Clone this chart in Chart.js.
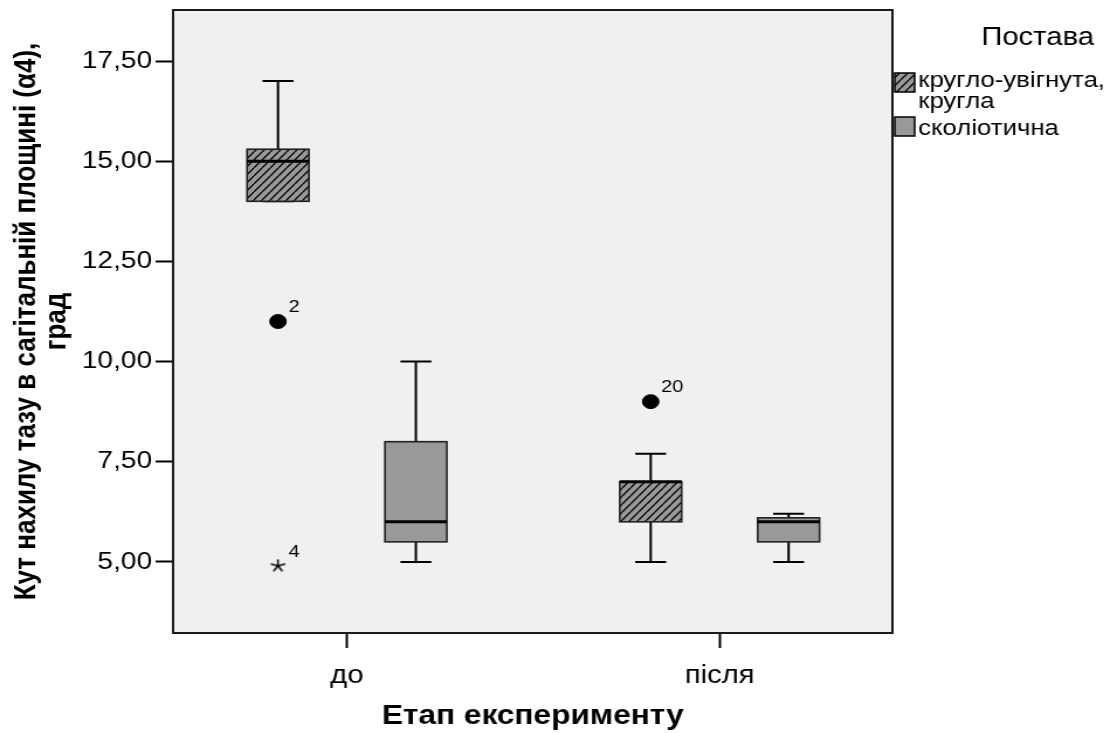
<!DOCTYPE html>
<html>
<head>
<meta charset="utf-8">
<script src="https://cdn.jsdelivr.net/npm/chart.js@4.4.0/dist/chart.umd.min.js"></script>
<style>
    html, body { margin: 0; padding: 0; background: #fff; }
</style>
</head>
<body>
<canvas id="boxChart" width="955" height="733" style="width:1117px;height:733px"></canvas>
<script>
// Values
const stageLabels = ['до', 'після'];
const yTickValues = [5, 7.5, 10, 12.5, 15, 17.5];

// кругло-увігнута, кругла
const roundLow = [14.0, 5.0];
const roundQ1 = [14.0, 6.0];
const roundMedian = [15.0, 7.0];
const roundQ3 = [15.3, 7.0];
const roundHigh = [17.0, 7.7];

// сколіотична
const scolLow = [5.0, 5.0];
const scolQ1 = [5.5, 5.5];
const scolMedian = [6.0, 6.0];
const scolQ3 = [8.0, 6.1];
const scolHigh = [10.0, 6.2];

// outliers (circles) and extremes (stars), with case numbers
const outlierStage = [0, 1];
const outlierGroup = [0, 0];
const outlierValues = [11.0, 9.0];
const outlierCases = ['2', '20'];
const extremeStage = [0];
const extremeGroup = [0];
const extremeValues = [4.9];
const extremeCases = ['4'];

// Layout (the reference is stretched sideways, so the canvas is drawn narrow and scaled by CSS)
const FONT = "'Liberation Sans', Arial, sans-serif";
const GROUP_OFFSET = 0.185;
const BOX_WIDTH = 0.166;
const CAP_WIDTH = 0.083;
const PLOT_RIGHT = 763;

Chart.defaults.font.family = FONT;
Chart.defaults.color = '#000';

function makeHatch(ctx) {
    const tile = document.createElement('canvas');
    tile.width = 7;
    tile.height = 8;
    const t = tile.getContext('2d');
    t.fillStyle = '#999999';
    t.fillRect(0, 0, 7, 8);
    t.strokeStyle = '#000';
    t.lineWidth = 1.3;
    t.beginPath();
    [-7, 0, 7].forEach(dx => {
        t.moveTo(dx, 8);
        t.lineTo(dx + 7, 0);
    });
    t.stroke();
    return ctx.createPattern(tile, 'repeat');
}

// SPSS-like five-spoke asterisk for extreme values
function makeAsterisk() {
    const c = document.createElement('canvas');
    c.width = 15;
    c.height = 15;
    const t = c.getContext('2d');
    t.strokeStyle = '#000';
    t.lineWidth = 1.5;
    t.beginPath();
    for (let k = 0; k < 5; k++) {
        const a = -Math.PI / 2 + k * 2 * Math.PI / 5;
        t.moveTo(7.5, 7.5);
        t.lineTo(7.5 + 6.5 * Math.cos(a), 7.5 + 6.5 * Math.sin(a));
    }
    t.stroke();
    return c;
}

function groupX(stage, group) {
    return stage + 1 + (group === 0 ? -GROUP_OFFSET : GROUP_OFFSET);
}

function drawBox(chart, stage, group, low, q1, med, q3, high, fill) {
    const ctx = chart.ctx;
    const x = chart.scales.x;
    const y = chart.scales.y;
    const cx = x.getPixelForValue(groupX(stage, group));
    const half = (x.getPixelForValue(BOX_WIDTH) - x.getPixelForValue(0)) / 2;
    const capHalf = (x.getPixelForValue(CAP_WIDTH) - x.getPixelForValue(0)) / 2;

    ctx.save();
    ctx.strokeStyle = '#000';
    ctx.lineWidth = 2;
    ctx.beginPath();
    ctx.moveTo(cx, y.getPixelForValue(high));
    ctx.lineTo(cx, y.getPixelForValue(q3));
    ctx.moveTo(cx, y.getPixelForValue(q1));
    ctx.lineTo(cx, y.getPixelForValue(low));
    ctx.moveTo(cx - capHalf, y.getPixelForValue(high));
    ctx.lineTo(cx + capHalf, y.getPixelForValue(high));
    ctx.moveTo(cx - capHalf, y.getPixelForValue(low));
    ctx.lineTo(cx + capHalf, y.getPixelForValue(low));
    ctx.stroke();

    const top = y.getPixelForValue(q3);
    const bottom = y.getPixelForValue(q1);
    ctx.fillStyle = fill;
    ctx.fillRect(cx - half, top, half * 2, bottom - top);
    ctx.strokeStyle = '#222';
    ctx.lineWidth = 1.6;
    ctx.strokeRect(cx - half, top, half * 2, bottom - top);

    ctx.strokeStyle = '#000';
    ctx.lineWidth = 3;
    ctx.beginPath();
    ctx.moveTo(cx - half, y.getPixelForValue(med));
    ctx.lineTo(cx + half, y.getPixelForValue(med));
    ctx.stroke();
    ctx.restore();
}

const boxPlotPlugin = {
    id: 'boxPlot',
    beforeDraw(chart) {
        const {ctx, chartArea: a} = chart;
        ctx.save();
        ctx.fillStyle = '#F0F0F0';
        ctx.fillRect(a.left, a.top, a.right - a.left, a.bottom - a.top);
        ctx.restore();
    },
    beforeDatasetsDraw(chart) {
        const hatch = makeHatch(chart.ctx);
        stageLabels.forEach((_, i) => {
            drawBox(chart, i, 0, roundLow[i], roundQ1[i], roundMedian[i], roundQ3[i], roundHigh[i], hatch);
            drawBox(chart, i, 1, scolLow[i], scolQ1[i], scolMedian[i], scolQ3[i], scolHigh[i], '#999999');
        });
    },
    afterDatasetsDraw(chart) {
        const ctx = chart.ctx;
        ctx.save();
        ctx.fillStyle = '#000';
        ctx.font = '17px ' + FONT;
        ctx.textBaseline = 'middle';
        chart.data.datasets.forEach((ds, di) => {
            chart.getDatasetMeta(di).data.forEach((pt, i) => {
                ctx.fillText(ds.cases[i], pt.x + 9, pt.y - 14);
            });
        });
        ctx.restore();
    },
    afterDraw(chart) {
        const {ctx, chartArea: a} = chart;
        ctx.save();
        ctx.strokeStyle = '#1a1a1a';
        ctx.lineWidth = 2;
        ctx.strokeRect(a.left, a.top, a.right - a.left, a.bottom - a.top);

        // legend
        ctx.fillStyle = '#000';
        ctx.textBaseline = 'middle';
        ctx.font = '25px ' + FONT;
        ctx.fillText('Постава', a.right + 76, 38);

        const sx = a.right + 2;
        ctx.fillStyle = makeHatch(ctx);
        ctx.fillRect(sx, 73, 17, 19);
        ctx.strokeStyle = '#000';
        ctx.lineWidth = 1.5;
        ctx.strokeRect(sx, 73, 17, 19);
        ctx.fillStyle = '#999999';
        ctx.fillRect(sx, 117, 17, 19);
        ctx.strokeRect(sx, 117, 17, 19);

        ctx.fillStyle = '#000';
        ctx.font = '22px ' + FONT;
        ctx.fillText('кругло-увігнута,', sx + 20, 81);
        ctx.fillText('кругла', sx + 20, 102);
        ctx.fillText('сколіотична', sx + 20, 129);
        ctx.restore();
    }
};

const ctx = document.getElementById('boxChart').getContext('2d');
const chart = new Chart(ctx, {
    type: 'scatter',
    data: {
        datasets: [
            {
                data: outlierValues.map((v, i) => ({x: groupX(outlierStage[i], outlierGroup[i]), y: v})),
                cases: outlierCases,
                pointStyle: 'circle',
                pointRadius: 7,
                backgroundColor: '#000',
                borderColor: '#000'
            },
            {
                data: extremeValues.map((v, i) => ({x: groupX(extremeStage[i], extremeGroup[i]), y: v})),
                cases: extremeCases,
                pointStyle: makeAsterisk(),
                pointRadius: 7,
                borderColor: '#000',
                backgroundColor: '#000'
            }
        ]
    },
    options: {
        responsive: false,
        devicePixelRatio: 1,
        animation: false,
        layout: { padding: { left: 0, top: 10, right: 955 - PLOT_RIGHT, bottom: 0 } },
        plugins: { legend: { display: false }, tooltip: { enabled: false } },
        scales: {
            x: {
                type: 'linear',
                min: 0.5336,
                max: 2.4636,
                afterBuildTicks: scale => {
                    scale.ticks = stageLabels.map((_, i) => ({value: i + 1}));
                },
                afterFit: scale => {
                    scale.height = 100;
                    scale.paddingLeft = 0;
                    scale.paddingRight = 0;
                },
                border: { display: false },
                grid: { drawOnChartArea: false, tickLength: 15, tickColor: '#000', tickWidth: 2 },
                ticks: {
                    font: { size: 25 },
                    padding: 13,
                    maxRotation: 0,
                    callback: v => stageLabels[Math.round(v) - 1] || ''
                },
                title: {
                    display: true,
                    text: 'Етап експерименту',
                    font: { size: 27, weight: 'bold' },
                    padding: { top: 0, bottom: 0 }
                }
            },
            y: {
                min: 3.225,
                max: 18.775,
                afterBuildTicks: scale => {
                    scale.ticks = yTickValues.map(v => ({value: v}));
                },
                afterFit: scale => {
                    scale.width = 148;
                    scale.paddingTop = 0;
                    scale.paddingBottom = 0;
                },
                border: { display: false },
                grid: { drawOnChartArea: false, tickLength: 15, tickColor: '#000', tickWidth: 2 },
                ticks: {
                    font: { size: 24 },
                    padding: 3,
                    callback: v => v.toFixed(2).replace('.', ',')
                },
                title: {
                    display: true,
                    text: ['Кут нахилу тазу в сагітальній площині (α4),', 'град'],
                    font: { size: 26, weight: 'bold', lineHeight: 0.99 },
                    padding: { top: 10, bottom: 0 }
                }
            }
        }
    },
    plugins: [boxPlotPlugin]
});
</script>
</body>
</html>
